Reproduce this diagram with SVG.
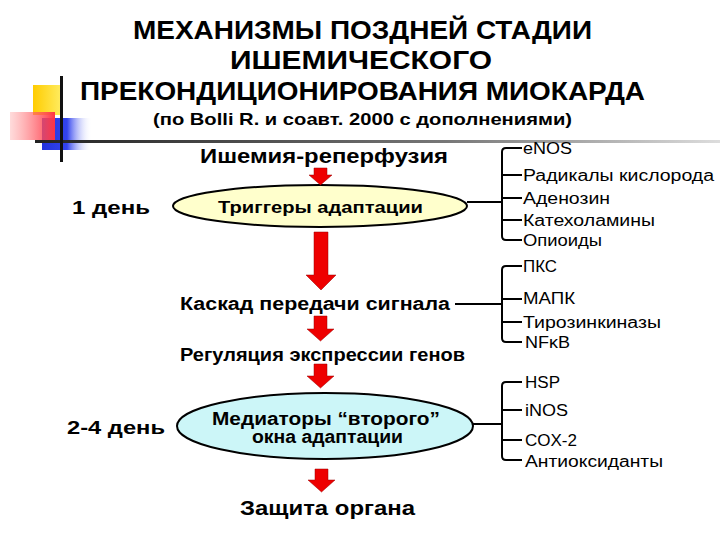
<svg xmlns="http://www.w3.org/2000/svg" width="720" height="540" viewBox="0 0 720 540">
<style>
text{font-family:"Liberation Sans",Arial,sans-serif;font-weight:bold;fill:#000}
.t{font-size:25px}
.l{font-size:16px;font-weight:normal}
.k{stroke:#000;stroke-width:2;fill:none}
.ar{fill:#ee0000;stroke:#990000;stroke-width:0.5}
</style>
<defs>
<linearGradient id="gb" x1="0" x2="1"><stop offset="0" stop-color="#2233dd"/><stop offset="0.5" stop-color="#3344ee"/><stop offset="1" stop-color="#ffffff" stop-opacity="0"/></linearGradient>
<linearGradient id="gr" x1="0" x2="1"><stop offset="0" stop-color="#ff8888" stop-opacity="0.3"/><stop offset="1" stop-color="#ff3344"/></linearGradient>
<linearGradient id="gy" x1="0" x2="1"><stop offset="0" stop-color="#ffcc00"/><stop offset="1" stop-color="#ffee66"/></linearGradient>
<linearGradient id="gl" x1="0" x2="1"><stop offset="0" stop-color="#222"/><stop offset="0.6" stop-color="#777"/><stop offset="1" stop-color="#ddd"/></linearGradient>
</defs>
<g id="decor">
<rect x="33" y="85" width="30" height="30" fill="url(#gy)"/>
<rect x="42" y="118" width="50" height="32" fill="url(#gb)"/>
<rect x="10" y="112" width="45" height="28" fill="url(#gr)"/>
<rect x="35" y="140" width="685" height="3" fill="url(#gl)"/>
<rect x="60" y="76" width="3" height="86" fill="#111"/>
</g>
<g id="title">
<text class="t" x="133" y="39" textLength="459" lengthAdjust="spacingAndGlyphs">МЕХАНИЗМЫ ПОЗДНЕЙ СТАДИИ</text>
<text class="t" x="230" y="69" textLength="262" lengthAdjust="spacingAndGlyphs">ИШЕМИЧЕСКОГО</text>
<text class="t" x="80" y="100" textLength="565" lengthAdjust="spacingAndGlyphs">ПРЕКОНДИЦИОНИРОВАНИЯ МИОКАРДА</text>
<text x="153" y="125" font-size="17" textLength="419" lengthAdjust="spacingAndGlyphs">(по Bolli R. и соавт. 2000 с дополнениями)</text>
</g>
<g id="labels">
<text x="72" y="214" font-size="19" textLength="78" lengthAdjust="spacingAndGlyphs">1 день</text>
<text x="67" y="434" font-size="19" textLength="98" lengthAdjust="spacingAndGlyphs">2-4 день</text>
</g>
<g id="n-ischemia"><text x="200" y="163" font-size="20" textLength="248" lengthAdjust="spacingAndGlyphs">Ишемия-реперфузия</text></g>
<g id="n-triggers">
<ellipse cx="320" cy="206" rx="147" ry="21" fill="#ffffcc" stroke="#000" stroke-width="2"/>
<text x="218" y="213" font-size="17" textLength="205" lengthAdjust="spacingAndGlyphs">Триггеры адаптации</text>
</g>
<g id="n-cascade"><text x="180" y="310" font-size="18" textLength="270" lengthAdjust="spacingAndGlyphs">Каскад передачи сигнала</text></g>
<g id="n-regulation"><text x="180" y="361" font-size="18" textLength="285" lengthAdjust="spacingAndGlyphs">Регуляция экспрессии генов</text></g>
<g id="n-mediators">
<ellipse cx="325" cy="426" rx="148" ry="33" fill="#ccf6f8" stroke="#000" stroke-width="2"/>
<text x="212" y="425" font-size="18" textLength="228" lengthAdjust="spacingAndGlyphs">Медиаторы  “второго”</text>
<text x="252" y="443" font-size="18" textLength="151" lengthAdjust="spacingAndGlyphs">окна адаптации</text>
</g>
<g id="n-protect"><text x="240" y="515" font-size="21" textLength="175" lengthAdjust="spacingAndGlyphs">Защита органа</text></g>
<g id="list1">
<text class="l" x="523" y="154" textLength="49" lengthAdjust="spacingAndGlyphs">eNOS</text>
<text class="l" x="523" y="181" textLength="191" lengthAdjust="spacingAndGlyphs">Радикалы кислорода</text>
<text class="l" x="523" y="204" textLength="87" lengthAdjust="spacingAndGlyphs">Аденозин</text>
<text class="l" x="523" y="226" textLength="132" lengthAdjust="spacingAndGlyphs">Катехоламины</text>
<text class="l" x="523" y="246" textLength="79" lengthAdjust="spacingAndGlyphs">Опиоиды</text>
</g>
<g id="list2">
<text class="l" x="523" y="272" textLength="34" lengthAdjust="spacingAndGlyphs">ПКС</text>
<text class="l" x="523" y="304" textLength="52" lengthAdjust="spacingAndGlyphs">МАПК</text>
<text class="l" x="523" y="328" textLength="138" lengthAdjust="spacingAndGlyphs">Тирозинкиназы</text>
<text class="l" x="525" y="348" textLength="45" lengthAdjust="spacingAndGlyphs">NFκB</text>
</g>
<g id="list3">
<text class="l" x="525" y="388" textLength="35" lengthAdjust="spacingAndGlyphs">HSP</text>
<text class="l" x="525" y="416" textLength="43" lengthAdjust="spacingAndGlyphs">iNOS</text>
<text class="l" x="525" y="446" textLength="52" lengthAdjust="spacingAndGlyphs">COX-2</text>
<text class="l" x="525" y="467" textLength="138" lengthAdjust="spacingAndGlyphs">Антиоксиданты</text>
</g>
<g id="connectors">
<path class="ar" d="M314 168h13v7h5l-11.5 10l-11.5-10h5z"/>
<path class="ar" d="M314 232h14v43h8l-15 15l-15-15h8z"/>
<path class="ar" d="M314 316h13v13h7l-13.5 12l-13.5-12h7z"/>
<path class="ar" d="M314 364h13v12h7l-13.5 12l-13.5-12h7z"/>
<path class="ar" d="M315 469h13v11h7l-13.5 12l-13.5-12h7z"/>
<path class="k" d="M467 202h35M522 148h-16q-4 0-4 4v84q0 4 4 4h16M502 175h20M502 198h20M502 220h20"/>
<path class="k" d="M455 304h47M522 266h-16q-4 0-4 4v68q0 4 4 4h16M502 299h20M502 322h20"/>
<path class="k" d="M473 424h29M522 382h-16q-4 0-4 4v70q0 4 4 4h16M502 410h20M502 440h20"/>
</g>
</svg>
